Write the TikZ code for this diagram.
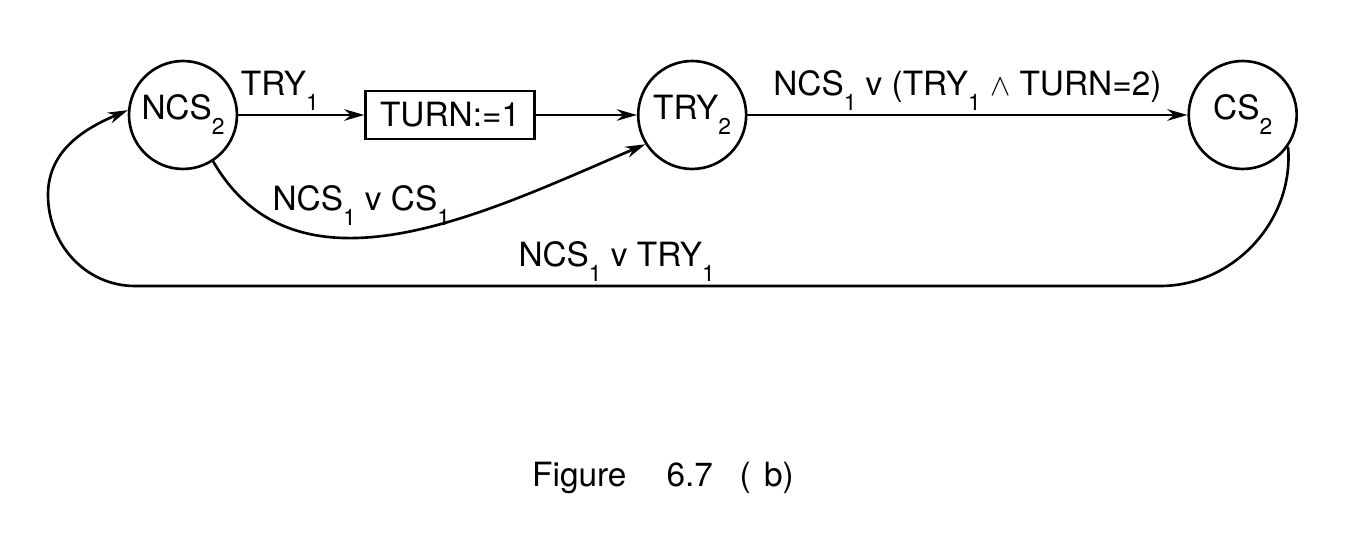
\documentclass[tikz,border=0pt]{standalone}
\usepackage{fontspec}
\setmainfont{TeX Gyre Heros}
\usetikzlibrary{arrows.meta, positioning}
\newcommand{\lettering}{\fontsize{19}{22}\selectfont}
\newcommand{\sub}[1]{\raisebox{-0.45em}{\fontsize{13}{13}\selectfont #1}}

\begin{document}
\begin{tikzpicture}[x=0.02cm, y=0.02cm,
      state/.style={draw, circle, line width=1.5pt, minimum size=2.16cm, inner sep=0pt, font=\lettering},
      assign/.style={draw, line width=1.5pt, minimum width=3.38cm, minimum height=0.96cm, inner sep=2pt, font=\lettering},
      flow/.style={-{Stealth[length=4mm, width=2.3mm]}, line width=1.5pt},
      cond/.style={font=\lettering, inner sep=2pt}]
    \useasboundingbox (0,0) rectangle (1354,550);
    \node[state] (ncs) at (183,435) {NCS\sub{2}};
    \node[assign, right=2.52cm of ncs] (turn) {TURN:=1};
    \node[state, right=2.02cm of turn] (try) {TRY\sub{2}};
    \node[state, right=8.8cm of try] (cs) {CS\sub{2}};
    % way back round the bottom
    \coordinate (botR) at (1160,264);
    \coordinate (botL) at (135,264);
    \coordinate (farL) at (48,355);
    % edges
    \draw[flow] (ncs) -- node[cond, above, pos=0.33] {TRY\sub{1}} (turn);
    \draw[flow] (turn) -- (try);
    \draw[flow] (try) -- node[cond, above] {NCS\sub{1} v (TRY\sub{1} $\wedge$ TURN=2)} (cs);
    \draw[flow] (ncs.-57) to[out=-60, in=203] node[cond, pos=0.41, above=4pt] {NCS\sub{1} v CS\sub{1}} (try.212);
    \draw[flow] (cs.-35) to[out=-85, in=0] (botR) -- node[cond, above, pos=0.53] {NCS\sub{1} v TRY\sub{1}} (botL)
      to[out=180, in=-90] (farL) to[out=90, in=203] (ncs.175);
    % caption
    \node[cond, anchor=base] (caption) at (663,63) {Figure\hspace{1.2em}6.7\hspace{0.8em}(\hspace{0.4em}b)};
  \end{tikzpicture}
\end{document}
